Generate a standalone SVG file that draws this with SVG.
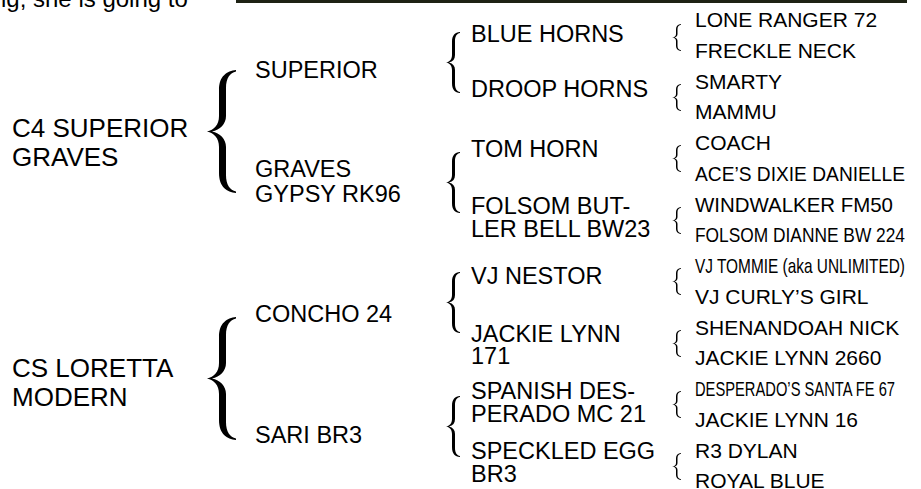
<svg xmlns="http://www.w3.org/2000/svg" xmlns:xlink="http://www.w3.org/1999/xlink" width="921" height="489" viewBox="0 0 921 489">
<style>
text{font-family:"Liberation Sans",Arial,sans-serif;fill:#000}
.t0{font-size:24px}
.t1{font-size:26px}
.t2{font-size:23.5px}
.t4{font-size:21px}
.br{fill:#000}
</style>
<defs>
<path id="bigBrace" d="M29,0 C20,1 12,6 12,20 L12,46 C12,55 7,60 0,61.5 C7,63 12,68 12,77 L12,103 C12,117 20,122 29,123 L29,121.5 C23,120 19,115 19,105 L19,77 C19,69 13,63 5,61.5 C13,60 19,54 19,46 L19,18 C19,8 23,3 29,1.5 Z"/>
<path id="midBrace" d="M14,0 C9,0.5 6,3 6,10 L6,23 C6,27.5 3.5,30 0,30.5 C3.5,31 6,33.5 6,38 L6,51 C6,58 9,60.5 14,61 L14,60 C11,59.5 9,57 9,52 L9,38 C9,34 7,31.5 3,30.5 C7,29.5 9,27 9,23 L9,9 C9,4 11,1.5 14,1 Z"/>
<path id="smallBrace" d="M9,0 C6,0.3 4,2 4,5 L4,10 C4,12.3 2.5,13.3 0,13.5 C2.5,13.7 4,14.7 4,17 L4,22 C4,25 6,26.7 9,27 L9,26.3 C7,26 5.5,24.5 5.5,22 L5.5,17 C5.5,15 4.5,13.9 2.5,13.5 C4.5,13.1 5.5,12 5.5,10 L5.5,5 C5.5,2.5 7,1 9,0.7 Z"/>
</defs>
<rect x="0" y="0" width="921" height="489" fill="#fff"/>
<rect id="topbar" x="236" y="0" width="671" height="3" fill="#1e2214"/>
<text class="t0" x="1" y="7">ig, she is going to</text>

<g id="connectors" class="br">
<use xlink:href="#bigBrace" x="207" y="70"/>
<use xlink:href="#bigBrace" x="207" y="317"/>
<use xlink:href="#midBrace" x="446" y="32"/>
<use xlink:href="#midBrace" x="446" y="152"/>
<use xlink:href="#midBrace" x="446" y="272"/>
<use xlink:href="#midBrace" x="446" y="396"/>
<use xlink:href="#smallBrace" x="672" y="24"/>
<use xlink:href="#smallBrace" x="672" y="84"/>
<use xlink:href="#smallBrace" x="672" y="145"/>
<use xlink:href="#smallBrace" x="672" y="207"/>
<use xlink:href="#smallBrace" x="672" y="268"/>
<use xlink:href="#smallBrace" x="672" y="330"/>
<use xlink:href="#smallBrace" x="672" y="391"/>
<use xlink:href="#smallBrace" x="672" y="453"/>
</g>

<g id="c4-superior-graves"><text class="t1" x="12" y="137">C4 SUPERIOR</text><text class="t1" x="12" y="166">GRAVES</text></g>
<g id="cs-loretta-modern"><text class="t1" x="12" y="377">CS LORETTA</text><text class="t1" x="12" y="405.5">MODERN</text></g>

<g id="superior"><text class="t2" x="255" y="78">SUPERIOR</text></g>
<g id="graves-gypsy"><text class="t2" x="255" y="177">GRAVES</text><text class="t2" x="255" y="201.5">GYPSY RK96</text></g>
<g id="concho-24"><text class="t2" x="255" y="322">CONCHO 24</text></g>
<g id="sari-br3"><text class="t2" x="255" y="442.5">SARI BR3</text></g>

<g id="blue-horns"><text class="t2" x="471" y="42">BLUE HORNS</text></g>
<g id="droop-horns"><text class="t2" x="471" y="96.5">DROOP HORNS</text></g>
<g id="tom-horn"><text class="t2" x="471" y="156.5">TOM HORN</text></g>
<g id="folsom-butler"><text class="t2" x="471" y="213.5">FOLSOM BUT-</text><text class="t2" x="471" y="236.5">LER BELL BW23</text></g>
<g id="vj-nestor"><text class="t2" x="471" y="284">VJ NESTOR</text></g>
<g id="jackie-lynn-171"><text class="t2" x="471" y="341.5">JACKIE LYNN</text><text class="t2" x="471" y="364">171</text></g>
<g id="spanish-desperado"><text class="t2" x="471" y="398.5">SPANISH DES-</text><text class="t2" x="471" y="421.5">PERADO MC 21</text></g>
<g id="speckled-egg"><text class="t2" x="471" y="458.5">SPECKLED EGG</text><text class="t2" x="471" y="482">BR3</text></g>

<g id="lone-ranger"><text class="t4" x="695" y="27">LONE RANGER 72</text></g>
<g id="freckle-neck"><text class="t4" x="695" y="57.75">FRECKLE NECK</text></g>
<g id="smarty"><text class="t4" x="695" y="88.5">SMARTY</text></g>
<g id="mammu"><text class="t4" x="695" y="119.25">MAMMU</text></g>
<g id="coach"><text class="t4" x="695" y="150">COACH</text></g>
<g id="aces-dixie"><text class="t4" x="695" y="180.75" textLength="210" lengthAdjust="spacingAndGlyphs">ACE’S DIXIE DANIELLE</text></g>
<g id="windwalker"><text class="t4" x="695" y="211.5" textLength="198" lengthAdjust="spacingAndGlyphs">WINDWALKER FM50</text></g>
<g id="folsom-dianne"><text class="t4" x="695" y="242.25" textLength="210" lengthAdjust="spacingAndGlyphs">FOLSOM DIANNE BW 224</text></g>
<g id="vj-tommie"><text class="t4" x="695" y="273" textLength="210" lengthAdjust="spacingAndGlyphs">VJ TOMMIE (aka UNLIMITED)</text></g>
<g id="vj-curly"><text class="t4" x="695" y="303.75">VJ CURLY’S GIRL</text></g>
<g id="shenandoah"><text class="t4" x="695" y="334.5">SHENANDOAH NICK</text></g>
<g id="jackie-lynn-2660"><text class="t4" x="695" y="365.25">JACKIE LYNN 2660</text></g>
<g id="desperados-santa-fe"><text class="t4" x="695" y="396" textLength="200" lengthAdjust="spacingAndGlyphs">DESPERADO’S SANTA FE 67</text></g>
<g id="jackie-lynn-16"><text class="t4" x="695" y="426.75">JACKIE LYNN 16</text></g>
<g id="r3-dylan"><text class="t4" x="695" y="457.5">R3 DYLAN</text></g>
<g id="royal-blue"><text class="t4" x="695" y="488">ROYAL BLUE</text></g>
</svg>
